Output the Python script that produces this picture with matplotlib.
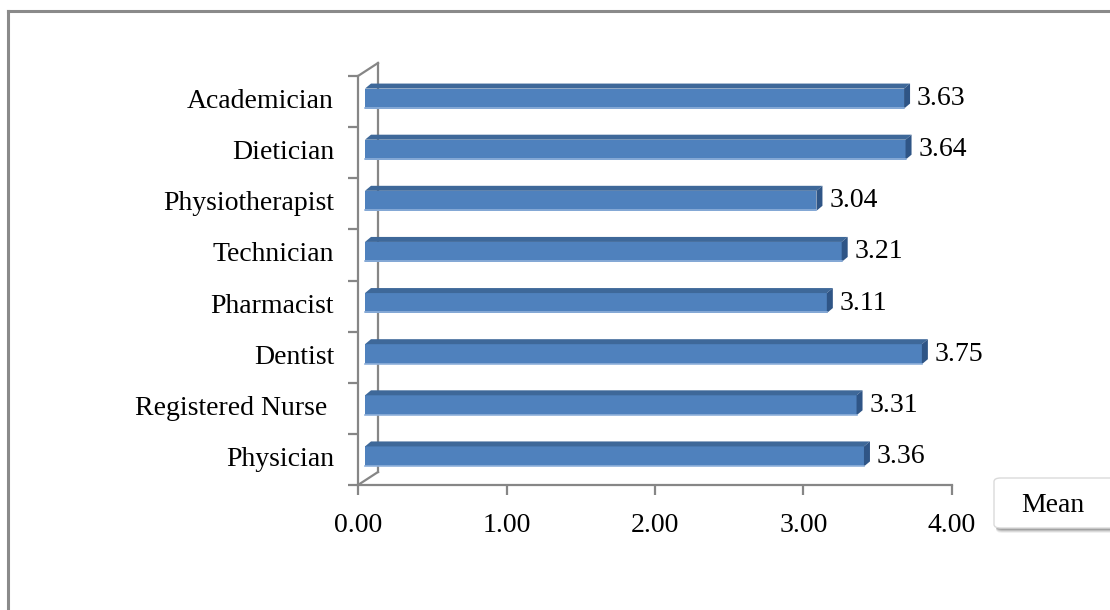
import matplotlib
matplotlib.use("Agg")
import matplotlib.pyplot as plt
from matplotlib.patches import Polygon, FancyBboxPatch, Rectangle
from matplotlib.lines import Line2D
import numpy as np

categories = ["Physician", "Registered Nurse ", "Dentist", "Pharmacist",
              "Technician", "Physiotherapist", "Dietician", "Academician"]
values = [3.36, 3.31, 3.75, 3.11, 3.21, 3.04, 3.64, 3.63]
xticks = [0, 1, 2, 3, 4]
xticklabels = ["0.00", "1.00", "2.00", "3.00", "4.00"]
legend_label = "Mean"

W, H, DPI = 1110, 610, 100
fig = plt.figure(figsize=(W / DPI, H / DPI), dpi=DPI)
FONT = "Liberation Serif"
FS = 20
GRAY = "#868686"

# axes placement (pixels)
x0px, x1px, ybot, ytop = 358, 952, 485, 76
ax = fig.add_axes([x0px / W, 1 - ybot / H, (x1px - x0px) / W, (ybot - ytop) / H])
n = len(categories)
ax.set_xlim(0, 4)
ax.set_ylim(-0.5, n - 0.5)
ax.set_facecolor("none")

pxx = 4 / (x1px - x0px)          # data units per pixel in x
pxy = n / (ybot - ytop)          # data units per pixel in y

for s in ["top", "right"]:
    ax.spines[s].set_visible(False)
for s in ["left", "bottom"]:
    ax.spines[s].set_color(GRAY)
    ax.spines[s].set_linewidth(1.6)

ax.set_xticks(xticks)
ax.set_xticklabels(xticklabels, fontsize=FS, family=FONT)
ax.tick_params(axis="x", direction="out", length=7, width=1.6, color=GRAY, pad=13)
ax.set_yticks(np.arange(-0.5, n, 1.0))
ax.set_yticklabels([])
ax.tick_params(axis="y", direction="out", length=7, width=1.6, color=GRAY)
for i, c in enumerate(categories):
    ax.text(-24 * pxx, i, c, ha="right", va="center", fontsize=FS, family=FONT,
            clip_on=False)

# back wall (3D depth lines)
bdx, bdy = 20 * pxx, 13 * pxy
ax.add_line(Line2D([bdx, bdx], [-0.5 + bdy, n - 0.5 + bdy], color=GRAY, lw=1.6, clip_on=False))
ax.add_line(Line2D([0, bdx], [n - 0.5, n - 0.5 + bdy], color=GRAY, lw=1.6, clip_on=False))
ax.add_line(Line2D([0, bdx], [-0.5, -0.5 + bdy], color=GRAY, lw=1.6, clip_on=False))

# bars with a 3D look
sx = 7 * pxx           # shift of bar front to the right
sy = 3 * pxy           # shift up
h = 20 * pxy           # bar front height
ddx, ddy = 6 * pxx, 5 * pxy   # bar depth
FRONT, TOP, SIDE = "#4F81BD", "#3E6899", "#2F5586"
for i, v in enumerate(values):
    yc = i + sy
    yb, yt = yc - h / 2, yc + h / 2
    xl, xr = sx, v + sx
    ax.add_patch(Rectangle((xl, yb), v, h, facecolor=FRONT, edgecolor="none", zorder=3))
    ax.add_line(Line2D([xl, xr], [yb + 0.6 * pxy, yb + 0.6 * pxy], color="#8FB0DA", lw=1.2, zorder=4))
    ax.add_patch(Polygon([(xl, yt), (xr, yt), (xr + ddx, yt + ddy), (xl + ddx, yt + ddy)],
                         closed=True, facecolor=TOP, edgecolor="none", zorder=3))
    ax.add_patch(Polygon([(xr, yb), (xr, yt), (xr + ddx, yt + ddy), (xr + ddx, yb + ddy)],
                         closed=True, facecolor=SIDE, edgecolor="none", zorder=3))
    ax.text(xr + ddx + 7 * pxx, yc, f"{v:.2f}", ha="left", va="center",
            fontsize=FS, family=FONT, clip_on=False)

# outer chart border (top and left visible)
fig.add_artist(Line2D([8 / W, 8 / W], [0, 1 - 11 / H], color="#8A8A8A", lw=2.2,
                      transform=fig.transFigure))
fig.add_artist(Line2D([8 / W, 1.0], [1 - 11 / H, 1 - 11 / H], color="#8A8A8A", lw=2.2,
                      transform=fig.transFigure))

# legend box with shadow
lx0, lx1, ly0, ly1 = 994, 1125, 478, 528
for k, a in enumerate([0.06, 0.09, 0.12, 0.15]):
    off = 5 - k
    fig.add_artist(FancyBboxPatch((lx0 / W + 2 / W, 1 - (ly1 + off) / H), (lx1 - lx0) / W, (ly1 - ly0) / H,
                                  boxstyle="round,pad=0,rounding_size=0.006", facecolor="black",
                                  alpha=a, edgecolor="none", transform=fig.transFigure))
fig.add_artist(FancyBboxPatch((lx0 / W, 1 - ly1 / H), (lx1 - lx0) / W, (ly1 - ly0) / H,
                              boxstyle="round,pad=0,rounding_size=0.006", facecolor="white",
                              edgecolor="#DADADA", lw=1, transform=fig.transFigure))
fig.text(1053 / W, 1 - 506 / H, legend_label, ha="center", va="center", fontsize=FS, family=FONT)

fig.savefig("out.png", dpi=DPI)
